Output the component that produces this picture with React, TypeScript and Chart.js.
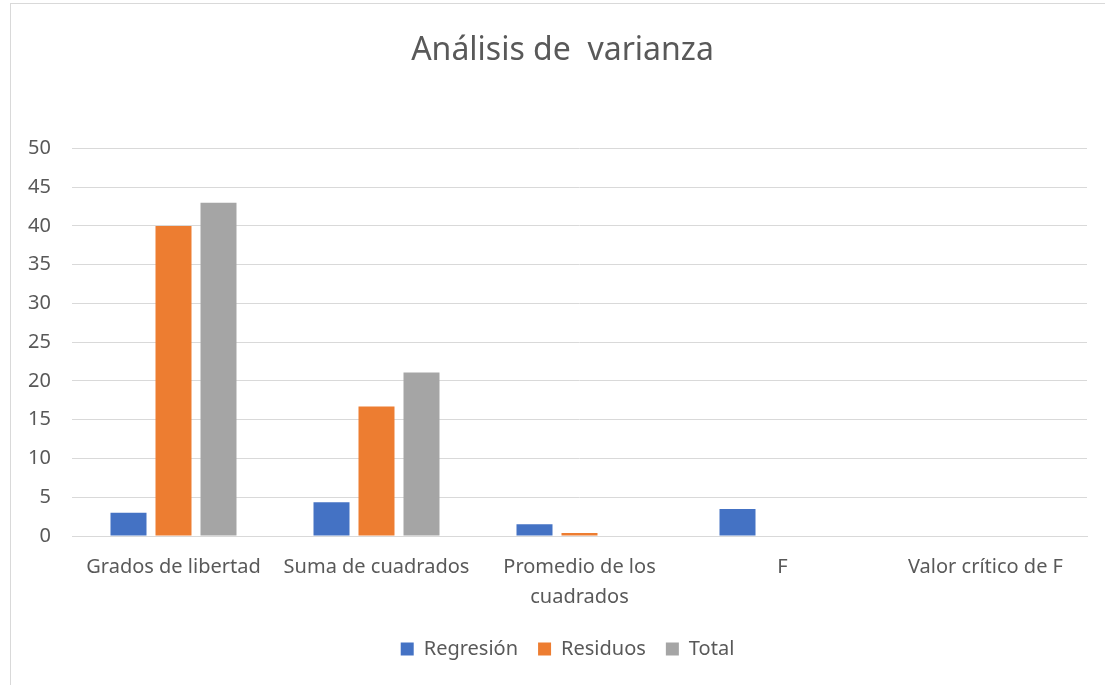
import React, { useEffect, useRef } from "react";
import { Chart, registerables } from "chart.js";

Chart.register(...registerables);

const titleText = "Análisis de  varianza";
const categories: (string | string[])[] = [
  "Grados de libertad",
  "Suma de cuadrados",
  ["Promedio de los", "cuadrados"],
  "F",
  "Valor crítico de F",
];
const regresion: (number | null)[] = [3, 4.35, 1.5, 3.48, null];
const residuos: (number | null)[] = [40, 16.7, 0.39, null, null];
const total: (number | null)[] = [43, 21.1, null, null, null];
const yTicks = { min: 0, max: 50, step: 5 };

const FONT = "'Noto Sans', 'Open Sans', sans-serif";
const TEXT = "#595959";
const GRID = "#D9D9D9";

// Shift the title and legend boxes horizontally (Excel centres them on the full frame)
const shiftBoxes = {
  id: "shiftBoxes",
  afterLayout(chart: any) {
    if (chart.titleBlock) {
      chart.titleBlock.left += 19;
      chart.titleBlock.right += 19;
    }
    if (chart.legend) {
      chart.legend.left += 24;
      chart.legend.right += 24;
    }
  },
};

export default function App() {
  const ref = useRef<HTMLCanvasElement | null>(null);
  useEffect(() => {
    if (!ref.current) return;
    const chart = new Chart(ref.current, {
      type: "bar",
      data: {
        labels: categories,
        datasets: [
          { label: "Regresión", data: regresion, backgroundColor: "#4472C4" },
          { label: "Residuos", data: residuos, backgroundColor: "#ED7D31" },
          { label: "Total", data: total, backgroundColor: "#A5A5A5" },
        ],
      },
      options: {
        animation: false,
        responsive: false,
        maintainAspectRatio: false,
        datasets: { bar: { categoryPercentage: 0.665, barPercentage: 0.8 } },
        layout: { padding: { left: 0, right: 18, top: 0, bottom: 16 } },
        plugins: {
          title: {
            display: true,
            text: titleText,
            color: TEXT,
            font: { family: FONT, size: 32, weight: "normal", lineHeight: 1.2 },
            padding: { top: 32, bottom: 78 },
          },
          legend: {
            display: true,
            position: "bottom",
            labels: {
              color: TEXT,
              font: { family: FONT, size: 20 },
              boxWidth: 13,
              boxHeight: 13,
              padding: 20,
            },
          },
          tooltip: { enabled: false },
        },
        scales: {
          x: {
            grid: { display: false, drawTicks: false },
            border: { display: true, color: GRID, width: 1 },
            ticks: {
              color: TEXT,
              font: { family: FONT, size: 20, lineHeight: 1.5 },
              padding: 16,
              maxRotation: 0,
              autoSkip: false,
            },
            afterFit: (s: any) => {
              s.height = s.height - 9;
            },
          },
          y: {
            min: yTicks.min,
            max: yTicks.max,
            grid: { color: GRID, lineWidth: 1, drawTicks: false },
            border: { display: false },
            ticks: {
              stepSize: yTicks.step,
              color: TEXT,
              font: { family: FONT, size: 20 },
              padding: 21,
            },
            afterFit: (s: any) => {
              s.width = 72;
            },
          },
        },
      },
      plugins: [shiftBoxes],
    });
    return () => chart.destroy();
  }, []);

  return (
    <div
      style={{
        position: "fixed",
        left: 0,
        top: 0,
        width: 1105,
        height: 685,
        overflow: "hidden",
        background: "#fff",
      }}
    >
      <div
        style={{
          position: "absolute",
          left: 10,
          top: 3,
          width: 1200,
          height: 800,
          border: "1px solid #D9D9D9",
        }}
      />
      <canvas
        ref={ref}
        width={1105}
        height={685}
        style={{ position: "absolute", left: 0, top: 0, width: 1105, height: 685 }}
      />
    </div>
  );
}
